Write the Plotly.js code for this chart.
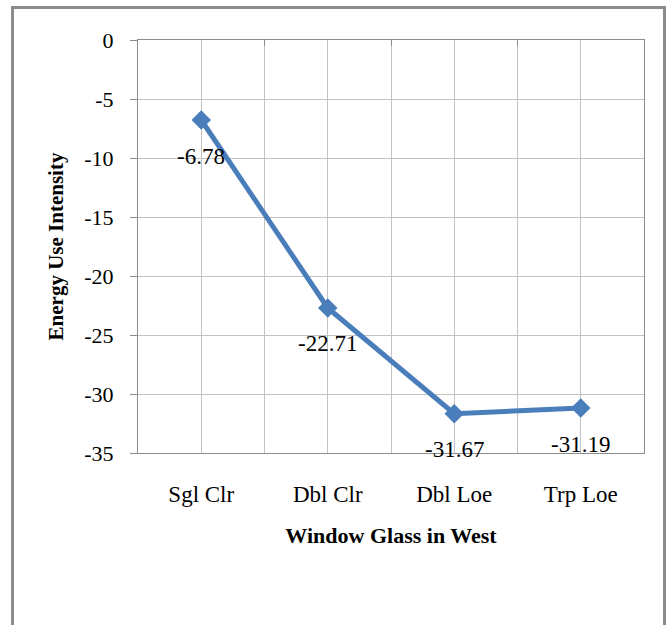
<!DOCTYPE html>
<html>
<head>
<meta charset="utf-8">
<script src="https://cdn.plot.ly/plotly-3.0.1.min.js"></script>
<style>
  html, body { margin: 0; padding: 0; background: #fff; }
  #wrap { position: relative; width: 667px; height: 625px; overflow: hidden; }
  #frame { position: absolute; left: 11px; top: 6px; width: 655px; height: 660px;
           border: 3px solid #8c8c8c; box-sizing: border-box; pointer-events: none; z-index: 5; }
  #chart { position: absolute; left: 0; top: 0; width: 667px; height: 625px; }
</style>
</head>
<body>
<div id="wrap">
  <div id="chart"></div>
  <div id="frame"></div>
</div>
<script>
const categories = ["Sgl Clr", "Dbl Clr", "Dbl Loe", "Trp Loe"];
const values = [-6.78, -22.71, -31.67, -31.19];
const valueLabels = ["-6.78", "-22.71", "-31.67", "-31.19"];
const yTicks = [0, -5, -10, -15, -20, -25, -30, -35];
const yTickText = ["0", "-5", "-10", "-15", "-20", "-25", "-30", "-35"];
const xTitle = "Window Glass in West";
const yTitle = "Energy Use Intensity";

const serif = "Liberation Serif, Times New Roman, serif";
const gridColor = "#c3c3c3";
const axisColor = "#8c8c8c";
const blue = "#4a7ebb";

const trace = {
  x: categories,
  y: values,
  type: "scatter",
  mode: "lines+markers",
  line: { color: blue, width: 5 },
  marker: { symbol: "diamond", size: 15, color: blue },
  hoverinfo: "skip",
  cliponaxis: false
};

// invisible companion trace so the top category axis (boundary grid + ticks) is drawn
const ghost = {
  x: categories,
  y: values,
  xaxis: "x2",
  type: "scatter",
  mode: "markers",
  marker: { opacity: 0 },
  hoverinfo: "skip",
  showlegend: false
};

const annotations = categories.map((c, i) => ({
  x: c, y: values[i], xref: "x", yref: "y",
  text: valueLabels[i], showarrow: false,
  yshift: -36,
  font: { family: serif, size: 23, color: "#000" }
}));

const layout = {
  width: 667, height: 625,
  margin: { l: 138, r: 23, t: 40, b: 172 },
  paper_bgcolor: "#fff",
  plot_bgcolor: "#fff",
  showlegend: false,
  font: { family: serif, size: 22, color: "#000" },
  xaxis: {
    type: "category",
    range: [-0.5, categories.length - 0.5],
    showgrid: true, gridcolor: gridColor, gridwidth: 1,
    showline: true, linecolor: axisColor, linewidth: 1, mirror: true,
    ticks: "", ticklabelstandoff: 20,
    tickfont: { family: serif, size: 23, color: "#000" },
    zeroline: false, fixedrange: true,
    title: { text: xTitle, standoff: 22, font: { family: serif, size: 22, color: "#000", weight: "bold" } }
  },
  xaxis2: {
    type: "category",
    overlaying: "x", anchor: "y", side: "top",
    range: [-0.5, categories.length - 0.5],
    tickson: "boundaries",
    showgrid: true, gridcolor: gridColor, gridwidth: 1,
    ticks: "inside", ticklen: 6, tickcolor: axisColor,
    showticklabels: false, showline: false, zeroline: false, fixedrange: true
  },
  yaxis: {
    range: [-35, 0],
    tickvals: yTicks,
    ticktext: yTickText,
    showgrid: true, gridcolor: gridColor, gridwidth: 1,
    showline: true, linecolor: axisColor, linewidth: 1, mirror: true,
    ticks: "outside", ticklen: 7, tickcolor: axisColor,
    ticklabelstandoff: 12,
    tickfont: { family: serif, size: 22, color: "#000" },
    zeroline: false, fixedrange: true,
    title: { text: yTitle, standoff: 14, font: { family: serif, size: 21, color: "#000", weight: "bold" } }
  },
  annotations: annotations
};

Plotly.newPlot("chart", [ghost, trace], layout, { staticPlot: true, displayModeBar: false });
</script>
</body>
</html>
